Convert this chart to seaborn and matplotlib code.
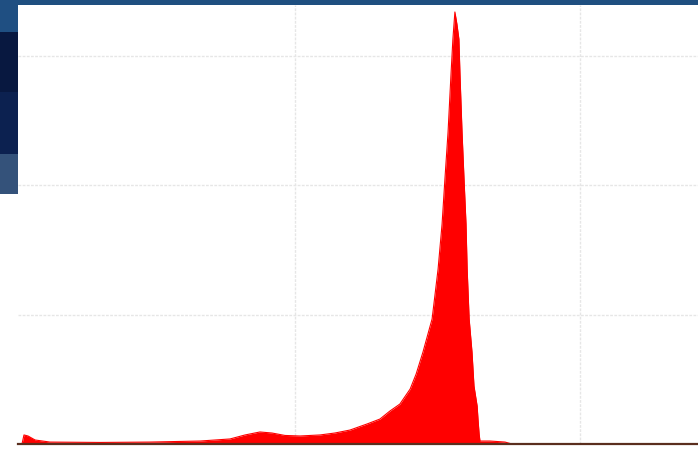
import matplotlib
matplotlib.use("Agg")
import matplotlib.pyplot as plt
import seaborn as sns
import pandas as pd
from matplotlib.patches import Rectangle

# Spectrum: channel and counts
channel = [42, 49, 63, 88, 140, 316, 491, 667, 772, 825, 877, 919, 965, 1018,
           1088, 1140, 1193, 1253, 1298, 1333, 1368, 1404, 1425, 1449, 1481,
           1502, 1516, 1526, 1537, 1547, 1554, 1561, 1568, 1575, 1579, 1586,
           1593, 1600, 1604, 1611, 1621, 1628, 1639, 1642, 1646, 1649, 1684,
           1737, 1761, 2414]
counts = [0, 70, 62, 31, 15, 12, 15, 23, 39, 70, 93, 85, 66, 62,
          70, 85, 108, 155, 193, 255, 309, 425, 541, 711, 967,
          1353, 1701, 2049, 2413, 2846, 3132, 3341, 3248, 3132, 2846, 2413,
          2049, 1701, 1353, 967, 711, 448, 294, 193, 77, 23, 23,
          15, 0, 0]

sns.set_theme(style="white")

fig = plt.figure(figsize=(6.98, 4.52), dpi=100)
fig.patch.set_facecolor("white")

W, H = 698, 452
ax = fig.add_axes([18 / W, (H - 445) / H, 680 / W, (445 - 6) / H])

df = pd.DataFrame({"channel": channel, "counts": counts})
sns.lineplot(data=df, x="channel", y="counts", color="#ff0000", linewidth=0.8, ax=ax)
ax.fill_between(df["channel"], df["counts"], color="#ff0000", linewidth=0)

ax.set_xlim(28, 2414)
ax.set_ylim(0, 3395)
ax.set_xticks([1000, 2000])
ax.set_yticks([1000, 2000, 3000])
ax.set_xticklabels([])
ax.set_yticklabels([])
ax.set_xlabel("")
ax.set_ylabel("")
ax.tick_params(length=0)
ax.grid(True, color="#e6e6e6", linestyle=(0, (2, 1)), linewidth=1)
ax.set_axisbelow(True)
for s in ["top", "left", "right"]:
    ax.spines[s].set_visible(False)
ax.spines["bottom"].set_color("#5a2e1e")
ax.spines["bottom"].set_linewidth(1.6)

# screenshot frame: blue top band and left panel
def px_rect(x0, y0, w, h, color):
    fig.patches.append(Rectangle((x0 / W, 1 - (y0 + h) / H), w / W, h / H,
                                 transform=fig.transFigure, facecolor=color,
                                 edgecolor="none", zorder=0))

px_rect(0, 0, 698, 6, "#1f4f80")
px_rect(0, 0, 18, 33, "#1f4f82")
px_rect(0, 33, 18, 60, "#081840")
px_rect(0, 93, 18, 62, "#0c2150")
px_rect(0, 155, 18, 40, "#34527a")

fig.savefig("out.png", dpi=100)
